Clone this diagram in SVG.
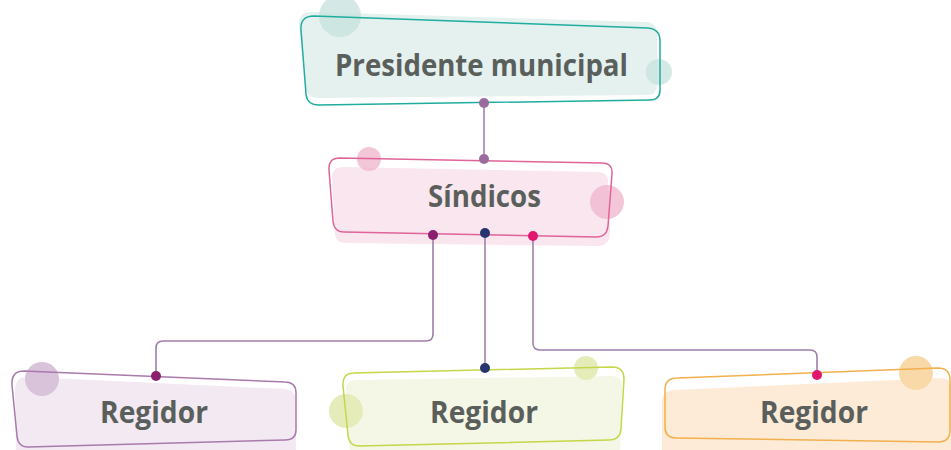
<svg xmlns="http://www.w3.org/2000/svg" width="951" height="450" viewBox="0 0 951 450">
<style>
.lbl{font-family:"Open Sans","Noto Sans",sans-serif;font-weight:700;font-size:31px;fill:#5a5f5c;text-anchor:middle}
.ol{fill:none;stroke-width:1.5}
.con{fill:none;stroke:#a07fac;stroke-width:1.6}
</style>
<rect width="951" height="450" fill="#ffffff"/>
<g id="presidente">
<path d="M312,12 L645,22 Q657,22 657,34 L657,85 Q657,95 647,95 L318,98 Q307,98 306,87 L299,25 Q298,12 312,12 Z" fill="#e4f1ee"/>
<circle cx="340" cy="16" r="21" fill="#c5e2dc" opacity="0.75"/>
<circle cx="659" cy="72" r="13" fill="#c5e2dc" opacity="0.75"/>
<path class="ol" stroke="#1fada0" d="M314,16 L648,28 Q660,29 660,41 L660,90 Q660,100 650,100 L319,105 Q307,105 306,94 L301,30 Q300,16 314,16 Z"/>
<text class="lbl" x="481.5" y="76" textLength="293" lengthAdjust="spacingAndGlyphs">Presidente municipal</text>
</g>
<g id="sindicos">
<path d="M343,167 L598,172 Q608,172 608,182 L610,232 Q610,246 598,246 L346,243 Q335,243 335,232 L332,178 Q332,167 343,167 Z" fill="#fae6ee"/>
<circle cx="369" cy="159" r="12" fill="#f0b8ce" opacity="0.8"/>
<circle cx="607" cy="202" r="17" fill="#f0b8ce" opacity="0.8"/>
<path class="ol" stroke="#e0649a" d="M340,158 L602,163 Q613,163 612,174 L608,226 Q607,237 596,237 L344,232 Q334,232 333,221 L329,170 Q328,158 340,158 Z"/>
<text class="lbl" x="484.5" y="207" textLength="113" lengthAdjust="spacingAndGlyphs">Síndicos</text>
</g>
<g id="regidor1">
<path d="M28,377 L285,389 Q296,390 296,400 L296,455 L16,455 L15,390 Q15,377 28,377 Z" fill="#f2e9f2"/>
<circle cx="42" cy="379" r="17" fill="#d8c3db"/>
<path class="ol" stroke="#a97aac" d="M24,371 L285,382 Q296,382 296,393 L296,430 Q296,440 285,440 L28,447 Q18,447 17,436 L12,385 Q11,371 24,371 Z"/>
<text class="lbl" x="154" y="423" textLength="108" lengthAdjust="spacingAndGlyphs">Regidor</text>
</g>
<g id="regidor2">
<path d="M356,380 L612,376 Q622,376 622,386 L620,455 L350,455 L346,392 Q345,380 356,380 Z" fill="#f4f7e5"/>
<circle cx="346" cy="411" r="17" fill="#e5ecba"/>
<circle cx="586" cy="368" r="12" fill="#e5ecba"/>
<path class="ol" stroke="#c5d648" d="M354,373 L612,367 Q624,367 624,379 L621,429 Q620,440 609,440 L359,446 Q349,446 348,435 L343,386 Q342,373 354,373 Z"/>
<text class="lbl" x="484" y="423" textLength="108" lengthAdjust="spacingAndGlyphs">Regidor</text>
</g>
<g id="regidor3">
<path d="M675,390 L940,378 Q951,378 951,388 L951,455 L662,455 L662,402 Q662,390 675,390 Z" fill="#fdebd7"/>
<circle cx="916" cy="373" r="17" fill="#f9d9a8"/>
<path class="ol" stroke="#f2b04e" d="M677,378 L938,368 Q950,368 950,380 L950,430 Q950,442 938,442 L676,438 Q665,438 665,427 L665,390 Q665,378 677,378 Z"/>
<text class="lbl" x="814" y="423" textLength="108" lengthAdjust="spacingAndGlyphs">Regidor</text>
</g>
<g id="connectors">
<path class="con" d="M484,103 V159"/>
<path class="con" d="M433,235 V334 Q433,341 426,341 H163 Q156,341 156,348 V376"/>
<path class="con" d="M485,233 V368"/>
<path class="con" d="M533,236 V343 Q533,350 540,350 H810 Q817,350 817,357 V375"/>
<circle cx="484" cy="103" r="5" fill="#9b6b9e"/>
<circle cx="484" cy="159" r="5" fill="#9b6b9e"/>
<circle cx="433" cy="235" r="5" fill="#8b1e6e"/>
<circle cx="485" cy="233" r="5" fill="#283470"/>
<circle cx="533" cy="236" r="5" fill="#e0166f"/>
<circle cx="156" cy="376" r="5" fill="#8b1e6e"/>
<circle cx="485" cy="368" r="5" fill="#283470"/>
<circle cx="817" cy="375" r="5" fill="#e0166f"/>
</g>
</svg>
